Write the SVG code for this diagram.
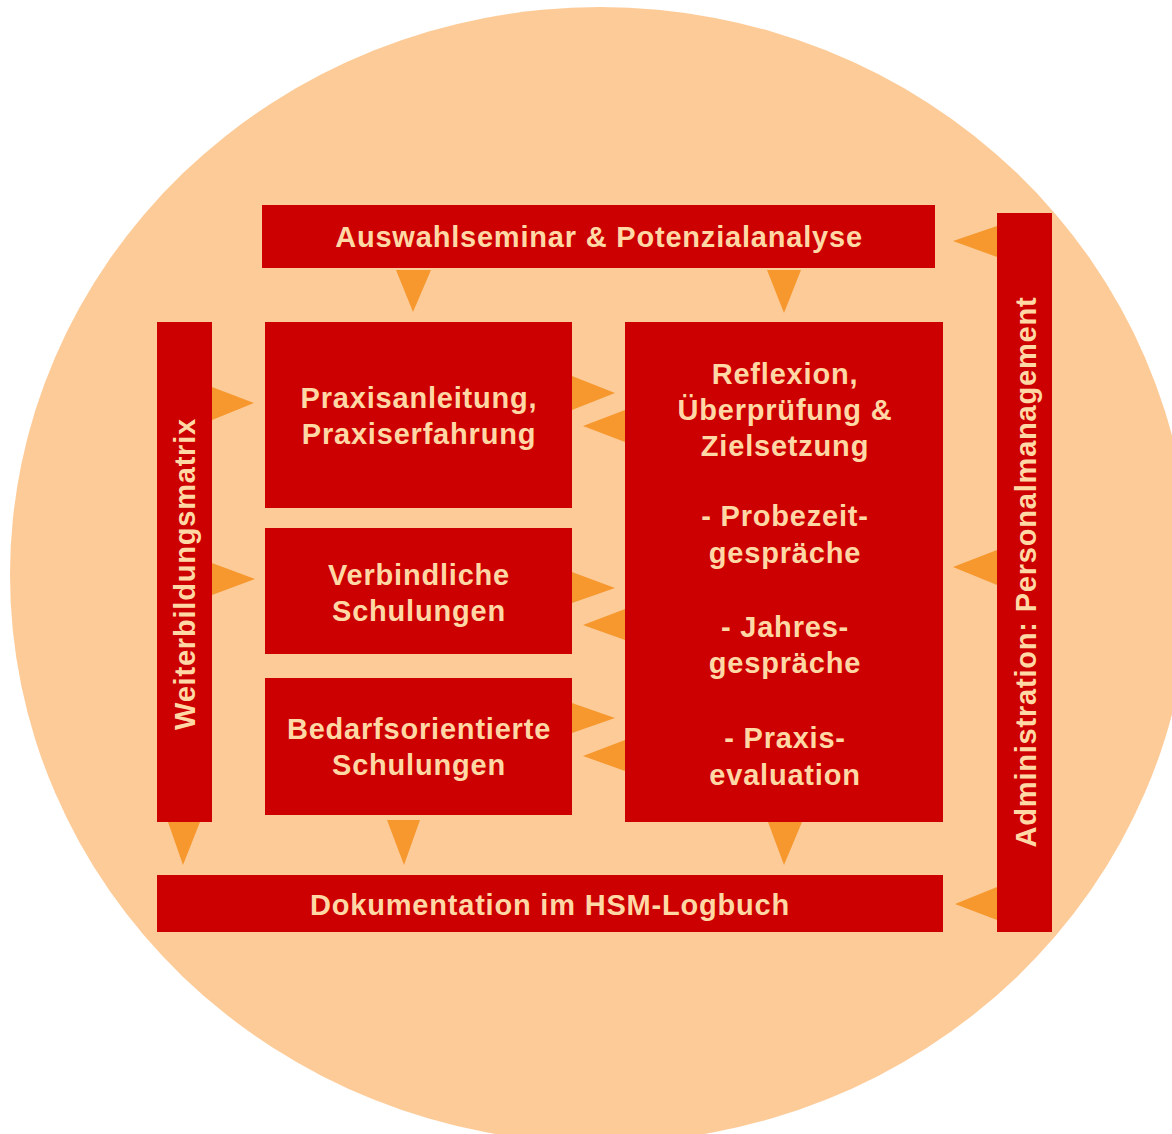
<svg xmlns="http://www.w3.org/2000/svg" width="1172" height="1134" viewBox="0 0 1172 1134">
  <style>
    .box { fill: #CC0000; }
    .arrow { fill: #F7982F; }
    .lbl { font-family: "Liberation Sans", Arial, sans-serif; font-weight: bold; font-size: 29px; letter-spacing: 0.8px; fill: #FFD8A6; text-anchor: middle; }
  </style>

  <!-- background disc -->
  <ellipse cx="600" cy="575" rx="590" ry="568" fill="#FDCB98"/>

  <!-- connectors: orange triangular arrowheads -->
  <g id="connectors">
    <!-- top bar down to the two upper boxes -->
    <polygon class="arrow" points="396,270 431,270 413,312"/>
    <polygon class="arrow" points="767,270 801,270 784,313"/>
    <!-- administration to top bar, reflexion box and log book -->
    <polygon class="arrow" points="997,226 997,257 953,241"/>
    <polygon class="arrow" points="997,550 997,585 953,567"/>
    <polygon class="arrow" points="997,887 997,920 955,904"/>
    <!-- training matrix to the first two boxes -->
    <polygon class="arrow" points="212,387 212,420 254,403"/>
    <polygon class="arrow" points="212,563 212,595 255,579"/>
    <!-- exchange between left boxes and reflexion box -->
    <polygon class="arrow" points="572,376 572,410 615,393"/>
    <polygon class="arrow" points="625,410 625,442 583,426"/>
    <polygon class="arrow" points="572,572 572,603 615,588"/>
    <polygon class="arrow" points="625,609 625,640 583,625"/>
    <polygon class="arrow" points="572,703 572,733 615,718"/>
    <polygon class="arrow" points="625,740 625,771 583,756"/>
    <!-- down into the log book -->
    <polygon class="arrow" points="168,822 200,822 183,865"/>
    <polygon class="arrow" points="387,820 420,820 404,865"/>
    <polygon class="arrow" points="768,822 802,822 784,865"/>
  </g>

  <g id="auswahl">
    <rect class="box" x="262" y="205" width="673" height="63"/>
    <text class="lbl" x="599" y="247">Auswahlseminar &amp; Potenzialanalyse</text>
  </g>

  <g id="weiterbildung">
    <rect class="box" x="157" y="322" width="55" height="500"/>
    <text class="lbl" transform="translate(195,574) rotate(-90)">Weiterbildungsmatrix</text>
  </g>

  <g id="praxis">
    <rect class="box" x="265" y="322" width="307" height="186"/>
    <text class="lbl" x="419" y="408">Praxisanleitung,</text>
    <text class="lbl" x="419" y="444">Praxiserfahrung</text>
  </g>

  <g id="verbindlich">
    <rect class="box" x="265" y="528" width="307" height="126"/>
    <text class="lbl" x="419" y="585">Verbindliche</text>
    <text class="lbl" x="419" y="621">Schulungen</text>
  </g>

  <g id="bedarf">
    <rect class="box" x="265" y="678" width="307" height="137"/>
    <text class="lbl" x="419" y="739">Bedarfsorientierte</text>
    <text class="lbl" x="419" y="775">Schulungen</text>
  </g>

  <g id="reflexion">
    <rect class="box" x="625" y="322" width="318" height="500"/>
    <text class="lbl" x="785" y="384">Reflexion,</text>
    <text class="lbl" x="785" y="420">Überprüfung &amp;</text>
    <text class="lbl" x="785" y="456">Zielsetzung</text>
    <text class="lbl" x="785" y="526">- Probezeit-</text>
    <text class="lbl" x="785" y="563">gespräche</text>
    <text class="lbl" x="785" y="637">- Jahres-</text>
    <text class="lbl" x="785" y="673">gespräche</text>
    <text class="lbl" x="785" y="748">- Praxis-</text>
    <text class="lbl" x="785" y="785">evaluation</text>
  </g>

  <g id="dokumentation">
    <rect class="box" x="157" y="875" width="786" height="57"/>
    <text class="lbl" x="550" y="915">Dokumentation im HSM-Logbuch</text>
  </g>

  <g id="administration">
    <rect class="box" x="997" y="213" width="55" height="719"/>
    <text class="lbl" transform="translate(1036,572) rotate(-90)">Administration: Personalmanagement</text>
  </g>
</svg>
